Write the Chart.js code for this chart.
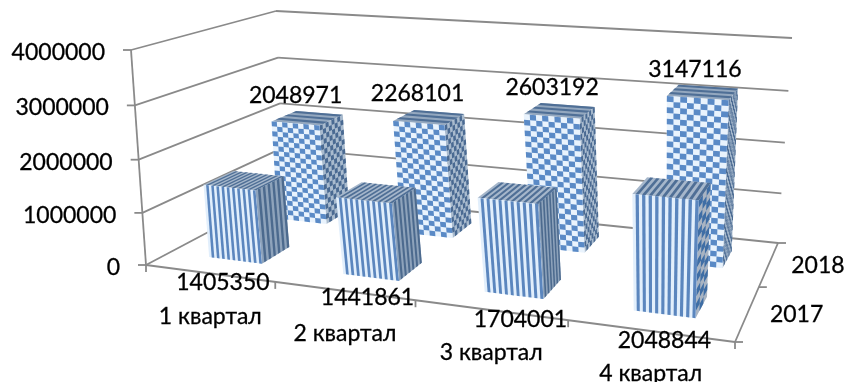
<!DOCTYPE html>
<html>
<head>
<meta charset="utf-8">
<title>Квартальные показатели</title>
<script src="https://cdn.jsdelivr.net/npm/chart.js@4/dist/chart.umd.min.js"></script>
<style>
    html, body { margin: 0; padding: 0; background: #fff; }
    canvas { display: block; }
</style>
</head>
<body>
<canvas id="chart" width="845" height="382"></canvas>
<script>
// DATA
const categories = ['1 квартал', '2 квартал', '3 квартал', '4 квартал'];
const seriesNames = ['2017', '2018'];
const values2017 = [1405350, 1441861, 1704001, 2048844];
const values2018 = [2048971, 2268101, 2603192, 3147116];
const yTicks = [0, 1000000, 2000000, 3000000, 4000000];

// label nudges from the anchor point of each bar, in px
const labelOffsets2017 = [[-12.5, 22], [-3.5, 20], [6.5, 24], [0, 26]];
const labelOffsets2018 = [[-12, -22], [-11.5, -24], [-7.5, -23], [-8, -23]];

// corners of the 3D box: front-left, front-right, back-right, back-left
const floorCorners = [[146, 265], [735, 342], [778, 243], [284, 192]];
const ceilCorners = [[131, 50], [750, 99], [792, 38], [276, 11]];
const depthFill = 0.4;   // share of a row's depth taken by the bar
const barBend = 0.06;    // columns sit a little right of the tick spacing

const FONT = '23px Lato, "Noto Sans", sans-serif';
const GRID = '#8a8a8a';

// homography from the unit square onto a quad
function quadMap(q) {
    const [[x0, y0], [x1, y1], [x2, y2], [x3, y3]] = q;
    const dx1 = x1 - x2, dx2 = x3 - x2, sx = x0 - x1 + x2 - x3;
    const dy1 = y1 - y2, dy2 = y3 - y2, sy = y0 - y1 + y2 - y3;
    const den = dx1 * dy2 - dx2 * dy1;
    const g = (sx * dy2 - dx2 * sy) / den;
    const h = (dx1 * sy - sx * dy1) / den;
    const a = x1 - x0 + g * x1, b = x3 - x0 + h * x3;
    const d = y1 - y0 + g * y1, e = y3 - y0 + h * y3;
    return (u, v) => {
        const n = g * u + h * v + 1;
        return [(a * u + b * v + x0) / n, (d * u + e * v + y0) / n];
    };
}

const floorMap = quadMap(floorCorners);
const ceilMap = quadMap(ceilCorners);

// u = along categories, v = depth, w = height, all 0..1
function project(u, v, w) {
    const p = floorMap(u, v), q = ceilMap(u, v);
    const t = w * 0.96 / (1 - 0.04 * w);
    return [p[0] + (q[0] - p[0]) * t, p[1] + (q[1] - p[1]) * t];
}

function toU(chart, px) {
    return (px - chart.chartArea.left) / chart.chartArea.width;
}

function toW(chart, py) {
    return (chart.chartArea.bottom - py) / chart.chartArea.height;
}

function bend(u) {
    return u + barBend * u * (1 - u);
}

function line(ctx, a, b) {
    ctx.beginPath();
    ctx.moveTo(a[0], a[1]);
    ctx.lineTo(b[0], b[1]);
    ctx.stroke();
}

// slightly heavier text than the plain face gives
function text(ctx, str, x, y) {
    ctx.strokeText(str, x, y);
    ctx.fillText(str, x, y);
}

function fillQuad(ctx, pts) {
    ctx.beginPath();
    pts.forEach((p, i) => i ? ctx.lineTo(p[0], p[1]) : ctx.moveTo(p[0], p[1]));
    ctx.closePath();
    ctx.fill();
}

// fills a face with a base colour, then dark cells over it
function paintFace(ctx, map, nx, ny, light, dark, checker) {
    ctx.fillStyle = light;
    fillQuad(ctx, [map(0, 0), map(1, 0), map(1, 1), map(0, 1)]);
    ctx.fillStyle = dark;
    for (let j = 0; j < ny; j++) {
        for (let i = 0; i < nx; i++) {
            const on = checker ? (i + j) % 2 === 1 : (nx > 1 ? i % 2 === 1 : j % 2 === 1);
            if (!on) continue;
            fillQuad(ctx, [
                map(i / nx, j / ny), map((i + 1) / nx, j / ny),
                map((i + 1) / nx, (j + 1) / ny), map(i / nx, (j + 1) / ny)
            ]);
        }
    }
}

// one 3D column, drawn from the bar element Chart.js laid out
function drawColumn(chart, el, row, rows, value, index) {
    const ctx = chart.ctx;
    const u0 = bend(toU(chart, el.x - el.width / 2));
    const u1 = bend(toU(chart, el.x + el.width / 2));
    const w = toW(chart, el.y);
    const half = depthFill / rows / 2;
    const v0 = (row + 0.5) / rows - half;
    const v1 = (row + 0.5) / rows + half;

    const front = (s, t) => project(u0 + (u1 - u0) * s, v0, w * t);
    const side = (s, t) => project(u1, v0 + (v1 - v0) * s, w * t);
    const top = (s, t) => project(u0 + (u1 - u0) * s, v0 + (v1 - v0) * t, w);

    if (row === 0) {
        if (index === categories.length - 1) {
            // the nearest side face breaks up into blotchy bands
            paintFace(ctx, side, 3, 16, '#a9b4c2', '#3f6ea5', true);
        } else {
            paintFace(ctx, side, 12, 1, '#8ea3bb', '#4c6a8e', false);
        }
        paintFace(ctx, top, 20, 1, '#a6b7cb', '#4f6f96', false);
        paintFace(ctx, front, 20, 1, '#e2effc', '#5b86be', false);
    } else {
        const rowsHigh = Math.round(value / 105000);
        paintFace(ctx, side, 8, rowsHigh, '#a9bbce', '#4a6a92', true);
        paintFace(ctx, top, 1, 6, '#94a8bf', '#4f6f96', false);
        paintFace(ctx, front, 9, rowsHigh, '#e9f3fd', '#5a8ac6', true);
    }
}

const box3d = {
    id: 'box3d',
    // walls, floor and axes
    beforeDatasetsDraw(chart) {
        const ctx = chart.ctx, yScale = chart.scales.y, xScale = chart.scales.x;
        ctx.save();
        ctx.strokeStyle = GRID;
        ctx.lineWidth = 1.8;
        ctx.font = FONT;
        ctx.textBaseline = 'middle';

        yScale.ticks.forEach(tick => {
            const w = toW(chart, yScale.getPixelForValue(tick.value));
            const a = project(0, 0, w), b = project(0, 1, w), c = project(1, 1, w);
            line(ctx, a, b);
            line(ctx, b, c);
            line(ctx, a, [a[0] - 8, a[1]]);
        });

        line(ctx, project(0, 0, 0), project(0, 0, 1));
        line(ctx, project(0, 0, 0), project(1, 0, 0));
        line(ctx, project(1, 0, 0), project(1, 1, 0));

        // category ticks along the front edge
        const n = categories.length;
        for (let i = 0; i <= n; i++) {
            const p = project(i / n, 0, 0);
            line(ctx, p, [p[0], p[1] + 7]);
        }
        // series ticks along the right edge
        seriesNames.forEach((name, i) => {
            const p = project(1, i / seriesNames.length, 0);
            line(ctx, p, [p[0] + 8, p[1]]);
        });
        const end = project(1, 1, 0);
        line(ctx, end, [end[0] + 8, end[1]]);

        ctx.fillStyle = '#000';
        ctx.strokeStyle = '#000';
        ctx.lineWidth = 0.3;
        ctx.textAlign = 'right';
        yScale.ticks.forEach(tick => {
            const a = project(0, 0, toW(chart, yScale.getPixelForValue(tick.value)));
            text(ctx, String(tick.value), a[0] - 26, a[1] + 2.5);
        });
        ctx.textAlign = 'center';
        categories.forEach((name, i) => {
            const p = project(toU(chart, xScale.getPixelForValue(i)), 0, 0);
            text(ctx, name, p[0] + 1, p[1] + 43);
        });
        seriesNames.forEach((name, i) => {
            const p = project(1, (i + 0.5) / seriesNames.length, 0);
            text(ctx, name, p[0] + 49, p[1] + 2);
        });
        ctx.restore();
    },
    // replaces the flat rectangles with columns
    beforeDatasetDraw(chart, args) {
        const rows = chart.data.datasets.length;
        const data = chart.data.datasets[args.index].data;
        args.meta.data.forEach((el, i) => drawColumn(chart, el, args.index, rows, data[i], i));
        return false;
    },
    // value labels go last so they sit over everything
    afterDatasetsDraw(chart) {
        const ctx = chart.ctx;
        const rows = chart.data.datasets.length;
        ctx.save();
        ctx.fillStyle = '#000';
        ctx.strokeStyle = '#000';
        ctx.lineWidth = 0.3;
        ctx.font = FONT;
        ctx.textAlign = 'center';
        ctx.textBaseline = 'middle';
        chart.getDatasetMeta(1).data.forEach((el, i) => {
            const p = project(bend(toU(chart, el.x)), 1.5 / rows, toW(chart, el.y));
            text(ctx, String(values2018[i]), p[0] + labelOffsets2018[i][0], p[1] + labelOffsets2018[i][1]);
        });
        chart.getDatasetMeta(0).data.forEach((el, i) => {
            const v = 0.5 / rows - depthFill / rows / 2;
            const p = project(bend(toU(chart, el.x)), v, 0);
            text(ctx, String(values2017[i]), p[0] + labelOffsets2017[i][0], p[1] + labelOffsets2017[i][1]);
        });
        ctx.restore();
    }
};

new Chart(document.getElementById('chart'), {
    type: 'bar',
    data: {
        labels: categories,
        datasets: [
            { label: seriesNames[0], data: values2017, grouped: false, barPercentage: 0.4, categoryPercentage: 1 },
            { label: seriesNames[1], data: values2018, grouped: false, barPercentage: 0.4, categoryPercentage: 1 }
        ]
    },
    options: {
        responsive: false,
        animation: false,
        layout: { padding: 0 },
        plugins: { legend: { display: false }, tooltip: { enabled: false } },
        scales: {
            x: { display: false },
            y: {
                display: false,
                min: 0,
                max: 4000000,
                afterBuildTicks(axis) {
                    axis.ticks = yTicks.map(value => ({ value }));
                }
            }
        }
    },
    plugins: [box3d]
});
</script>
</body>
</html>
